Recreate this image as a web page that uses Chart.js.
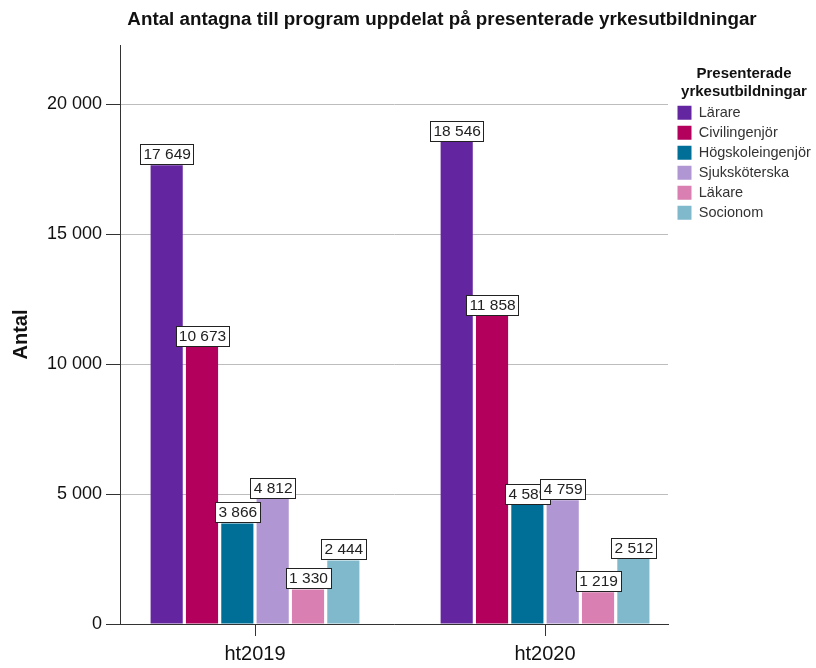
<!DOCTYPE html>
<html lang="sv">
<head>
  <meta charset="UTF-8">
  <title>Antal antagna</title>
  <style>
    body { margin: 0; background: #fff; font-family: "Liberation Sans", Arial, sans-serif; }
    #wrap { position: relative; width: 816px; height: 668px; }
    #title { position: absolute; left: 0; width: 884px; top: 8px; line-height: 22px; text-align: center;
             font-weight: bold; font-size: 18.8px; color: #111; }
  </style>
</head>
<body>
<div id="wrap">
  <div id="title">Antal antagna till program uppdelat på presenterade yrkesutbildningar</div>
  <canvas id="chart" width="816" height="668"></canvas>
</div>

<script src="https://cdn.jsdelivr.net/npm/chart.js@4.4.0/dist/chart.umd.min.js"></script>
<script>
  // data
  var terms = ['ht2019', 'ht2020'];
  var programs = ['Lärare', 'Civilingenjör', 'Högskoleingenjör', 'Sjuksköterska', 'Läkare', 'Socionom'];
  var colors = ['#6426a0', '#b3005c', '#006f97', '#b096d2', '#d97fb1', '#81b9cc'];
  var larare = [17649, 18546];
  var civilingenjor = [10673, 11858];
  var hogskoleingenjor = [3866, 4589];
  var sjukskoterska = [4812, 4759];
  var lakare = [1330, 1219];
  var socionom = [2444, 2512];
  var yTicks = [0, 5000, 10000, 15000, 20000];

  var series = [larare, civilingenjor, hogskoleingenjor, sjukskoterska, lakare, socionom];
  var FONT = '"Liberation Sans", Arial, sans-serif';

  function fmt(v) {
    return String(v).replace(/\B(?=(\d{3})+(?!\d))/g, ' ');
  }

  var datasets = series.map(function (vals, i) {
    return {
      label: programs[i],
      backgroundColor: colors[i],
      borderWidth: 0,
      data: vals.map(function (v, j) { return { x: j, y: v }; })
    };
  });

  // boxed value labels on top of every bar
  var boxLabels = {
    id: 'boxLabels',
    afterDatasetsDraw: function (chart) {
      var ctx = chart.ctx;
      ctx.save();
      ctx.font = '15.5px ' + FONT;
      ctx.textAlign = 'center';
      ctx.textBaseline = 'middle';
      chart.data.datasets.forEach(function (ds, i) {
        chart.getDatasetMeta(i).data.forEach(function (bar, j) {
          var txt = fmt(ds.data[j].y);
          var w = Math.round(ctx.measureText(txt).width + 6);
          var h = 20;
          var x = Math.round(bar.x - w / 2), y = Math.round(bar.y - 1 - h);
          ctx.fillStyle = '#fff';
          ctx.fillRect(x, y, w, h);
          ctx.strokeStyle = '#222';
          ctx.lineWidth = 1;
          ctx.strokeRect(x + 0.5, y + 0.5, w, h);
          ctx.fillStyle = '#222';
          ctx.fillText(txt, bar.x + 0.5, y + h / 2 + 1);
        });
      });
      ctx.restore();
    }
  };

  var ctx = document.getElementById('chart').getContext('2d');
  var chart = new Chart(ctx, {
    type: 'bar',
    data: { datasets: datasets },
    plugins: [boxLabels],
    options: {
      responsive: false,
      animation: false,
      layout: { padding: { top: 45, right: 0, bottom: 0, left: 4 } },
      datasets: { bar: { categoryPercentage: 0.731, barPercentage: 0.91 } },
      plugins: {
        tooltip: { enabled: false },
        legend: {
          position: 'right',
          align: 'start',
          maxWidth: 144,
          title: {
            display: true,
            text: ['Presenterade', 'yrkesutbildningar'],
            color: '#111',
            font: { family: FONT, size: 15, weight: 'bold' },
            padding: { top: 21, bottom: 16 }
          },
          labels: {
            boxWidth: 14,
            boxHeight: 14,
            padding: 5.5,
            color: '#333',
            font: { family: FONT, size: 14.5 }
          }
        }
      },
      scales: {
        x: {
          type: 'linear',
          offset: false,
          min: -0.4655,
          max: 1.424,
          afterFit: function (scale) { scale.height = 44; },
          afterBuildTicks: function (scale) {
            scale.ticks = terms.map(function (t, i) { return { value: i }; });
          },
          ticks: {
            color: '#111',
            padding: 6,
            font: { family: FONT, size: 20 },
            callback: function (v) { return terms[v]; }
          },
          grid: { offset: false, drawOnChartArea: false, drawTicks: true, tickLength: 12, tickColor: '#333' },
          border: { color: '#333', width: 1 }
        },
        y: {
          min: 0,
          max: 22270,
          afterFit: function (scale) { scale.width = 116; },
          afterBuildTicks: function (scale) {
            scale.ticks = yTicks.map(function (v) { return { value: v }; });
          },
          ticks: {
            color: '#111',
            padding: 4,
            font: { family: FONT, size: 18 },
            callback: function (v) { return fmt(v); }
          },
          grid: { color: '#bdbdbd', tickLength: 14, tickColor: '#333' },
          border: { color: '#333', width: 1 },
          title: {
            display: true,
            text: 'Antal',
            color: '#111',
            font: { family: FONT, size: 20, weight: 'bold' },
            padding: { top: 5, bottom: 0 }
          }
        },
        // thin empty axis so the plot stops a little before the legend
        yPad: {
          type: 'linear',
          axis: 'y',
          position: 'right',
          afterFit: function (scale) { scale.width = 4; },
          ticks: { display: false },
          grid: { display: false },
          border: { display: false }
        }
      }
    }
  });
</script>
</body>
</html>
